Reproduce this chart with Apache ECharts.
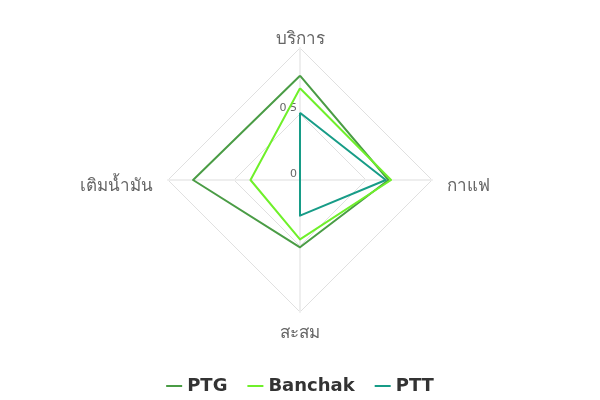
<!DOCTYPE html>
<html><head><meta charset="utf-8">
<script src="https://cdn.jsdelivr.net/npm/echarts@6/dist/echarts.min.js"></script>
<style>html,body{margin:0;padding:0;background:#fff}#c{width:600px;height:400px}</style>
</head><body><div id="c"></div>
<script>
// ECharts lays radar indicators out counter-clockwise from the top
const indicators = ['บริการ', 'เติมน้ำมัน', 'สะสม', 'กาแฟ'];
const seriesNames = ['PTG', 'Banchak', 'PTT'];
const ptg = [0.79, 0.81, 0.51, 0.67];
const banchak = [0.695, 0.375, 0.45, 0.69];
const ptt = [0.51, 0, 0.27, 0.65];
const colors = ['#4a9c45', '#6ff02a', '#179c87'];
const values = [ptg, banchak, ptt];

const chart = echarts.init(document.getElementById('c'));
chart.setOption({
  animation: false,
  color: colors,
  textStyle: { fontFamily: 'DejaVu Sans' },
  legend: {
    top: 372,
    data: seriesNames,
    icon: 'rect',
    itemWidth: 16,
    itemHeight: 2,
    itemGap: 20,
    textStyle: { fontSize: 18, fontWeight: 'bold', color: '#333', fontFamily: 'DejaVu Sans' }
  },
  radar: {
    center: [300, 180],
    radius: 132,
    shape: 'polygon',
    splitNumber: 2,
    nameGap: 15,
    axisName: { color: '#666', fontSize: 17, verticalAlign: 'top', lineHeight: 13, fontFamily: 'DejaVu Sans' },
    splitLine: { lineStyle: { color: '#e0e0e0', width: 1 } },
    splitArea: { show: false },
    axisLine: { lineStyle: { color: '#eeeeee', width: 2 } },
    axisLabel: { show: false },
    indicator: indicators.map((n, i) => {
      const o = { name: n, min: 0, max: 1 };
      if (i === 0) o.axisLabel = { show: true, showMaxLabel: false, color: '#666', fontSize: 11, margin: 3, verticalAlign: 'bottom', fontFamily: 'DejaVu Sans' };
      return o;
    })
  },
  series: [{
    type: 'radar',
    symbol: 'none',
    lineStyle: { width: 2 },
    data: seriesNames.map((n, i) => ({ name: n, value: values[i] }))
  }]
});
</script></body></html>
